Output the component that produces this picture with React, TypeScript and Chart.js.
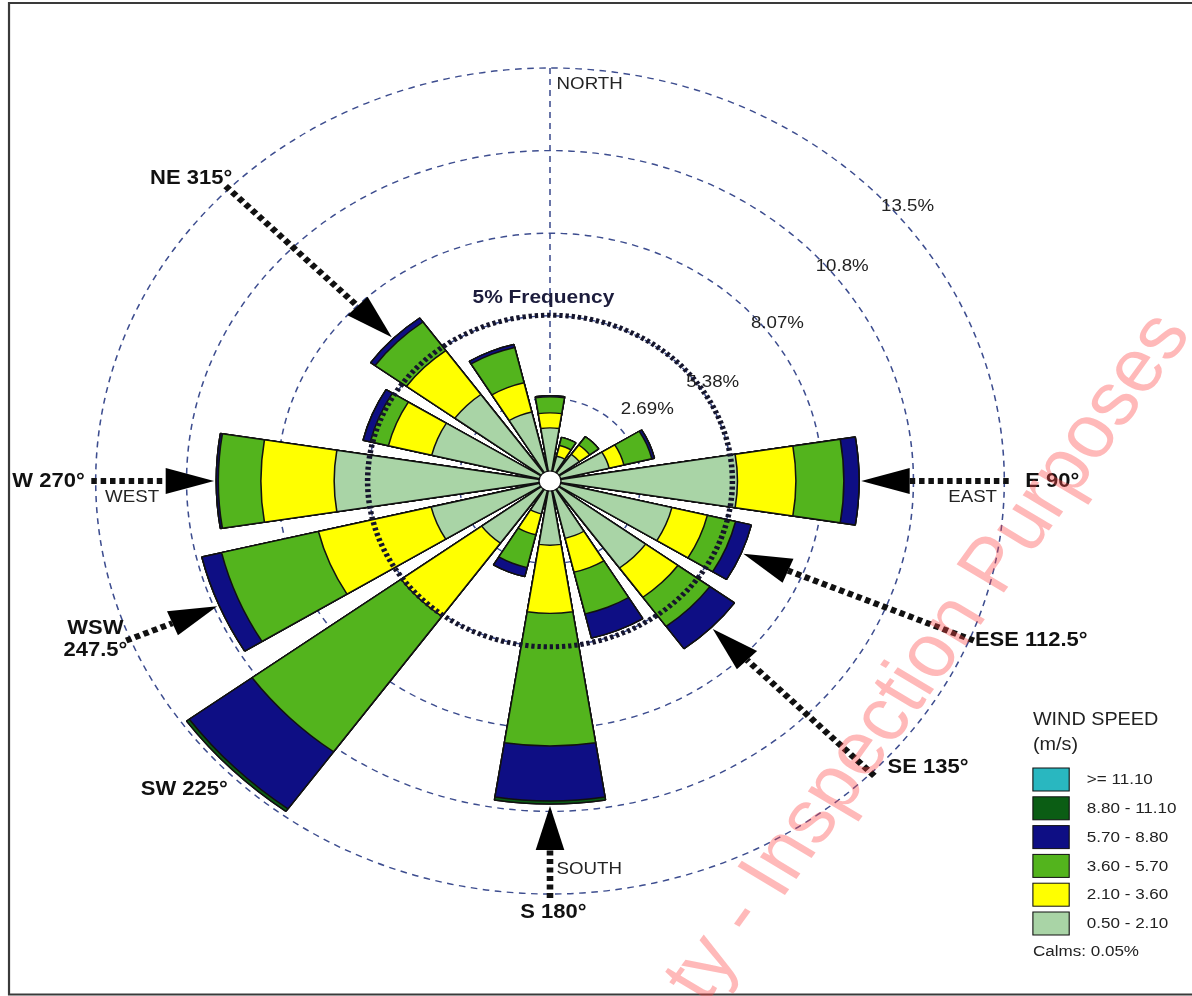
import { useEffect, useRef } from 'react';
import { Chart, registerables } from 'chart.js';

Chart.register(...registerables);

// 16 compass sectors, clockwise from north
const directions = ['N', 'NNE', 'NE', 'ENE', 'E', 'ESE', 'SE', 'SSE', 'S', 'SSW', 'SW', 'WSW', 'W', 'WNW', 'NW', 'NNW'];

// Frequency (%) of each wind speed class in every sector
const speed050to210 = [1.73, 0.83, 1.07, 1.8, 5.55, 3.71, 3.5, 1.92, 2.09, 1.1, 2.5, 3.62, 6.39, 3.6, 3.48, 2.31];
const speed210to360 = [0.49, 0.36, 0.38, 0.45, 1.73, 1.08, 1.18, 1.13, 2.22, 0.7, 2.95, 3.43, 2.17, 1.32, 1.77, 0.98];
const speed360to570 = [0.52, 0.27, 0.33, 0.85, 1.42, 0.86, 1.17, 1.4, 4.32, 1.1, 5.45, 2.95, 1.26, 0.55, 1.15, 1.18];
const speed570to880 = [0.04, 0, 0, 0.08, 0.45, 0.48, 0.9, 0.81, 1.79, 0.3, 2.3, 0.6, 0.06, 0.22, 0.16, 0.1];
const speed880to1110 = [0, 0, 0, 0, 0, 0, 0, 0, 0.1, 0, 0.1, 0, 0, 0, 0, 0];
const speedAbove1110 = [0, 0, 0, 0, 0, 0, 0, 0, 0, 0, 0, 0, 0, 0, 0, 0];

const speedClassLabels = ['0.50 - 2.10', '2.10 - 3.60', '3.60 - 5.70', '5.70 - 8.80', '8.80 - 11.10', '>= 11.10'];
const speedClassColors = ['#a9d4a6', '#ffff00', '#53b41d', '#0e0e84', '#0b5d14', '#29b7c0'];

// Radial rings and their captions
const ringValues = [0, 2.69, 5.38, 8.07, 10.76, 13.45];
const ringLabels = ['', '2.69%', '5.38%', '8.07%', '10.8%', '13.5%'];
const frequencyRingValue = 5.4;
const frequencyRingLabel = '5% Frequency';

const legendTitle = ['WIND SPEED', '(m/s)'];
const calmsLabel = 'Calms: 0.05%';

// Sector captions and the sectors that carry a pointer arrow
const captionSectors = [14, 12, 11, 10, 8, 6, 5, 4];
const captionTexts = [['NE 315°'], ['W 270°'], ['WSW', '247.5°'], ['SW 225°'], ['S 180°'], ['SE 135°'], ['ESE 112.5°'], ['E 90°']];
const arrowSectors = [14, 12, 11, 8, 6, 5, 4];
const compassWords = ['NORTH', 'EAST', 'SOUTH', 'WEST'];
const watermarkText = 'ty - Inspection Purposes';

const speedClasses = [speed050to210, speed210to360, speed360to570, speed570to880, speed880to1110, speedAbove1110];
// Running totals: each class is drawn from the centre out to its cumulative frequency
const cumulative = speedClasses.map((_, k) =>
  directions.map((__, i) => speedClasses.slice(0, k + 1).reduce((s, arr) => s + arr[i], 0))
);
const sectorTotals = cumulative[cumulative.length - 1];

const PETAL_DEG = 18;
const GAP_DEG = 22.5 - PETAL_DEG;
const STRETCH_X = 1.1;
const W = 1192;
const H = 996;
const FONT = '"Liberation Sans", Arial, Helvetica, sans-serif';
const GRID_COLOR = '#3d4d8f';

const withGaps = (vals: number[]) => vals.flatMap((v) => [v, 0]);
const sectorLabels = directions.flatMap((d) => [d, '']);

// where each ring caption sits: compass angle on the ring and a nudge in px
const ringCaptionPlace = [
  { deg: 0, dx: 0, dy: 0 },
  { deg: 30, dx: 23, dy: 0 },
  { deg: 48, dx: 1, dy: 12 },
  { deg: 48, dx: -1.5, dy: 8 },
  { deg: 48, dx: -4, dy: 6 },
  { deg: 48, dx: -6, dy: 2 },
];

const captionStyle: Record<number, { dx: number; dy: number; align: CanvasTextAlign; lineGap?: number }> = {
  14: { dx: 6, dy: -8, align: 'right' },
  12: { dx: -6, dy: 0, align: 'right' },
  11: { dx: -28, dy: -12, align: 'center', lineGap: 22 },
  10: { dx: 2, dy: 14, align: 'right' },
  8: { dx: 3, dy: 14, align: 'center' },
  6: { dx: 12, dy: -8, align: 'left' },
  5: { dx: 1, dy: 0, align: 'left' },
  4: { dx: 15, dy: 0, align: 'left' },
};

const decorPlugin = {
  id: 'windRoseDecor',
  beforeDraw(chart: any) {
    chart.ctx.save();
    chart.ctx.scale(STRETCH_X, 1);
  },
  afterDraw(chart: any) {
    chart.ctx.restore();
  },
  beforeDatasetsDraw(chart: any) {
    const s = chart.scales.r;
    const ctx: CanvasRenderingContext2D = chart.ctx;
    const outer = s.getDistanceFromCenterForValue(s.max);
    ctx.save();
    ctx.strokeStyle = GRID_COLOR;
    ctx.lineWidth = 1.4;
    ctx.setLineDash([6, 5]);
    ctx.beginPath();
    ctx.moveTo(s.xCenter, s.yCenter - outer);
    ctx.lineTo(s.xCenter, s.yCenter);
    ctx.stroke();
    ctx.restore();
  },
  afterDatasetsDraw(chart: any) {
    const s = chart.scales.r;
    const ctx: CanvasRenderingContext2D = chart.ctx;
    const cx = s.xCenter;
    const cy = s.yCenter;
    const outer = s.getDistanceFromCenterForValue(s.max);
    const at = (deg: number, r: number) => {
      const a = (deg * Math.PI) / 180;
      return { x: cx + r * Math.sin(a), y: cy - r * Math.cos(a) };
    };

    ctx.save();

    // 5% frequency ring
    const rf = s.getDistanceFromCenterForValue(frequencyRingValue);
    ctx.strokeStyle = '#15152c';
    ctx.lineWidth = 5;
    ctx.setLineDash([3, 2.6]);
    ctx.beginPath();
    ctx.arc(cx, cy, rf, 0, Math.PI * 2);
    ctx.stroke();
    ctx.setLineDash([]);
    ctx.fillStyle = '#1c1c3c';
    ctx.font = `bold 19px ${FONT}`;
    ctx.textAlign = 'center';
    ctx.textBaseline = 'middle';
    ctx.fillText(frequencyRingLabel, cx - 6, cy - rf - 17);

    // ring captions
    ctx.font = `17px ${FONT}`;
    ctx.fillStyle = '#222';
    ctx.textAlign = 'left';
    ringValues.forEach((v, i) => {
      if (!ringLabels[i]) return;
      const place = ringCaptionPlace[i];
      const p = at(place.deg, s.getDistanceFromCenterForValue(v));
      ctx.fillText(ringLabels[i], p.x + place.dx, p.y + place.dy);
    });

    // centre hub
    ctx.beginPath();
    ctx.arc(cx, cy, 10, 0, Math.PI * 2);
    ctx.fillStyle = '#fff';
    ctx.fill();
    ctx.strokeStyle = '#111';
    ctx.lineWidth = 1.2;
    ctx.stroke();

    // pointer arrows
    const rStart = outer + 4;
    arrowSectors.forEach((sec) => {
      const deg = sec * 22.5;
      const a = (deg * Math.PI) / 180;
      const tipR = s.getDistanceFromCenterForValue(sectorTotals[sec]) + 2;
      const headLen = 44;
      const half = 13;
      const tip = at(deg, tipR);
      const base = at(deg, tipR + headLen);
      const start = at(deg, rStart);
      ctx.strokeStyle = '#111';
      ctx.lineWidth = 6;
      ctx.lineCap = 'butt';
      ctx.setLineDash([5, 3.5]);
      ctx.beginPath();
      ctx.moveTo(start.x, start.y);
      ctx.lineTo(base.x, base.y);
      ctx.stroke();
      ctx.setLineDash([]);
      const px = Math.cos(a);
      const py = Math.sin(a);
      ctx.fillStyle = '#000';
      ctx.beginPath();
      ctx.moveTo(tip.x, tip.y);
      ctx.lineTo(base.x + px * half, base.y + py * half);
      ctx.lineTo(base.x - px * half, base.y - py * half);
      ctx.closePath();
      ctx.fill();
    });

    // sector captions
    ctx.font = `bold 20px ${FONT}`;
    ctx.fillStyle = '#111';
    ctx.textBaseline = 'middle';
    captionSectors.forEach((sec, i) => {
      const st = captionStyle[sec];
      const p = at(sec * 22.5, rStart);
      ctx.textAlign = st.align;
      captionTexts[i].forEach((line, j) => {
        ctx.fillText(line, p.x + st.dx, p.y + st.dy + j * (st.lineGap || 22));
      });
    });

    // compass words
    ctx.font = `17px ${FONT}`;
    ctx.fillStyle = '#242424';
    ctx.textAlign = 'left';
    ctx.fillText(compassWords[0], cx + 6, cy - outer + 16);
    ctx.fillText(compassWords[2], cx + 6, cy + outer - 25);
    ctx.fillText(compassWords[3], cx - outer + 8.5, cy + 16);
    ctx.textAlign = 'right';
    ctx.fillText(compassWords[1], cx + outer - 6.6, cy + 16);

    // legend
    const lx = 939;
    ctx.textAlign = 'left';
    ctx.fillStyle = '#222';
    ctx.font = `18px ${FONT}`;
    ctx.fillText(legendTitle[0], lx, 720);
    ctx.fillText(legendTitle[1], lx, 745);
    ctx.font = `15.5px ${FONT}`;
    const order = speedClassLabels.map((_, k) => speedClassLabels.length - 1 - k);
    order.forEach((k, row) => {
      const y = 768 + row * 28.8;
      ctx.fillStyle = speedClassColors[k];
      ctx.fillRect(lx, y, 33, 23);
      ctx.strokeStyle = '#111';
      ctx.lineWidth = 1;
      ctx.strokeRect(lx, y, 33, 23);
      ctx.fillStyle = '#222';
      ctx.fillText(speedClassLabels[k], 988, y + 12);
    });
    ctx.font = `15.5px ${FONT}`;
    ctx.fillText(calmsLabel, lx, 952);

    // page frame
    ctx.strokeStyle = '#3a3a3a';
    ctx.lineWidth = 2;
    ctx.beginPath();
    ctx.moveTo(W / STRETCH_X + 5, 3);
    ctx.lineTo(8.2, 3);
    ctx.lineTo(8.2, 994.5);
    ctx.lineTo(W / STRETCH_X + 5, 994.5);
    ctx.stroke();

    // watermark
    ctx.translate(705 / STRETCH_X, 1005);
    ctx.rotate((-56.6 * Math.PI) / 180);
    ctx.font = `75px ${FONT}`;
    ctx.fillStyle = 'rgba(255, 70, 70, 0.38)';
    ctx.textAlign = 'left';
    ctx.textBaseline = 'alphabetic';
    ctx.fillText(watermarkText, 0, 0);

    ctx.restore();
  },
};

export default function App() {
  const ref = useRef<HTMLCanvasElement>(null);

  useEffect(() => {
    const canvas = ref.current;
    if (!canvas) return;
    const chart = new Chart(canvas, {
      type: 'polarArea',
      data: {
        labels: sectorLabels,
        datasets: speedClasses.map((_, k) => ({
          label: speedClassLabels[k],
          data: withGaps(cumulative[k]),
          backgroundColor: (c: any) => (c.dataIndex % 2 ? 'rgba(0,0,0,0)' : speedClassColors[k]),
          borderColor: '#111',
          borderWidth: (c: any) => (c.dataIndex % 2 ? 0 : 1.4),
          angle: (c: any) => (c.dataIndex % 2 ? GAP_DEG : PETAL_DEG),
        })) as any,
      },
      options: {
        responsive: false,
        animation: false,
        events: [],
        layout: { padding: { left: 87, top: 68, right: W - 913, bottom: H - 894 } },
        plugins: { legend: { display: false }, tooltip: { enabled: false } },
        scales: {
          r: {
            type: 'radialLinear',
            min: 0,
            max: 13.45,
            startAngle: -PETAL_DEG / 2,
            afterBuildTicks: (scale: any) => {
              scale.ticks = ringValues.map((v) => ({ value: v }));
            },
            ticks: { display: false },
            grid: { circular: true, color: GRID_COLOR, lineWidth: 1.4 },
            border: { dash: [6, 5] },
            angleLines: { display: false },
            pointLabels: { display: false },
          } as any,
        },
      },
      plugins: [decorPlugin],
    });
    return () => chart.destroy();
  }, []);

  return (
    <div style={{ position: 'absolute', left: 0, top: 0, width: W, height: H, background: '#fff', overflow: 'hidden' }}>
      <canvas ref={ref} width={W} height={H} style={{ display: 'block', width: W, height: H }} />
    </div>
  );
}
